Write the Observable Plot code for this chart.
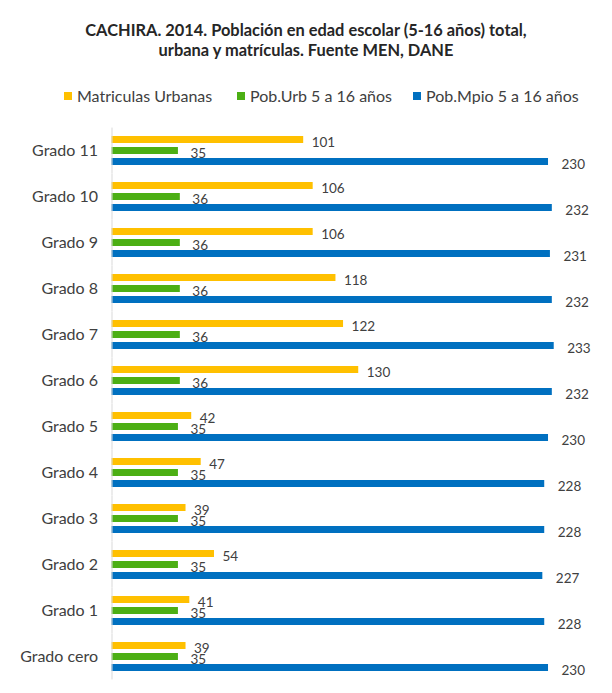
<!DOCTYPE html>
<html>
<head>
<meta charset="utf-8">
<script src="https://cdn.jsdelivr.net/npm/d3@7"></script>
<script src="https://cdn.jsdelivr.net/npm/@observablehq/plot@0.6"></script>
<style>
  html, body { margin: 0; padding: 0; background: #fff; }
  body { width: 612px; height: 693px; position: relative; font-family: Lato, "Open Sans", sans-serif; color: #404040; }
  #title { position: absolute; top: 20px; left: 0; width: 612px; text-align: center; font-weight: bold; font-size: 16.4px; line-height: 20px; color: #262626; }
  #legend { position: absolute; top: 88px; left: 0; width: 612px; height: 16px; font-size: 16px; line-height: 16px; color: #404040; }
  .item { position: absolute; top: 0; white-space: nowrap; }
  .sw { position: absolute; top: 4px; width: 8px; height: 8px; }
  #chart { position: absolute; top: 104px; left: 0; }
</style>
</head>
<body>
<div id="title">CACHIRA. 2014. Población en edad escolar (5-16 años) total,<br>urbana y matrículas. Fuente MEN, DANE</div>
<div id="legend"></div>
<div id="chart"></div>
<script>
const grados = ["Grado 11","Grado 10","Grado 9","Grado 8","Grado 7","Grado 6","Grado 5","Grado 4","Grado 3","Grado 2","Grado 1","Grado cero"];
const series = ["Matriculas Urbanas","Pob.Urb 5 a 16 años","Pob.Mpio 5 a 16 años"];
const colors = ["#FFC000","#4CAF14","#0070C0"];
const matriculas = [101,106,106,118,122,130,42,47,39,54,41,39];
const pobUrb = [35,36,36,36,36,36,35,35,35,35,35,35];
const pobMpio = [230,232,231,232,233,232,230,228,228,227,228,230];

const seriesValues = [matriculas, pobUrb, pobMpio];
const data = [];
grados.forEach((g, i) => {
  series.forEach((s, j) => data.push({grado: g, serie: s, value: seriesValues[j][i]}));
});

// legend
const legendX = [[64,77],[237,250],[413,426]];
const legend = document.getElementById("legend");
series.forEach((s, j) => {
  const sw = document.createElement("div");
  sw.className = "sw";
  sw.style.left = legendX[j][0] + "px";
  sw.style.background = colors[j];
  legend.appendChild(sw);
  const t = document.createElement("div");
  t.className = "item";
  t.style.left = legendX[j][1] + "px";
  t.textContent = s;
  legend.appendChild(t);
});

const labelDx = [8, 12, 13];
const labelDy = [3, 3, 2.5];

const chart = Plot.plot({
  width: 612,
  height: 589,
  marginTop: 22,
  marginBottom: 11.5,
  marginLeft: 111.5,
  marginRight: 45,
  style: {fontFamily: "Lato, 'Open Sans', sans-serif", fontSize: "16px", color: "#404040", background: "#fff"},
  x: {domain: [0, 240], axis: null},
  fy: {domain: grados, paddingInner: 0.3205, paddingOuter: 0.15, label: null},
  y: {domain: series, paddingInner: 0.375, paddingOuter: 0, axis: null},
  color: {domain: series, range: colors},
  marks: [
    Plot.axisFy({anchor: "left", tickSize: 0, tickPadding: 14, label: null, fontSize: 16, fill: "#404040"}),
    Plot.barX(data, {fy: "grado", y: "serie", x: "value", fill: "serie"}),
    Plot.ruleX([0], {stroke: "#d9d9d9", strokeWidth: 1, insetTop: -7.45, insetBottom: -7.45}),
    ...series.map((s, j) => Plot.text(data.filter(d => d.serie === s), {
      fy: "grado", y: "serie", x: "value", text: d => String(d.value),
      textAnchor: "start", dx: labelDx[j], dy: labelDy[j], fontSize: 13.5, fill: "#404040"
    }))
  ]
});
document.getElementById("chart").appendChild(chart);
</script>
</body>
</html>
